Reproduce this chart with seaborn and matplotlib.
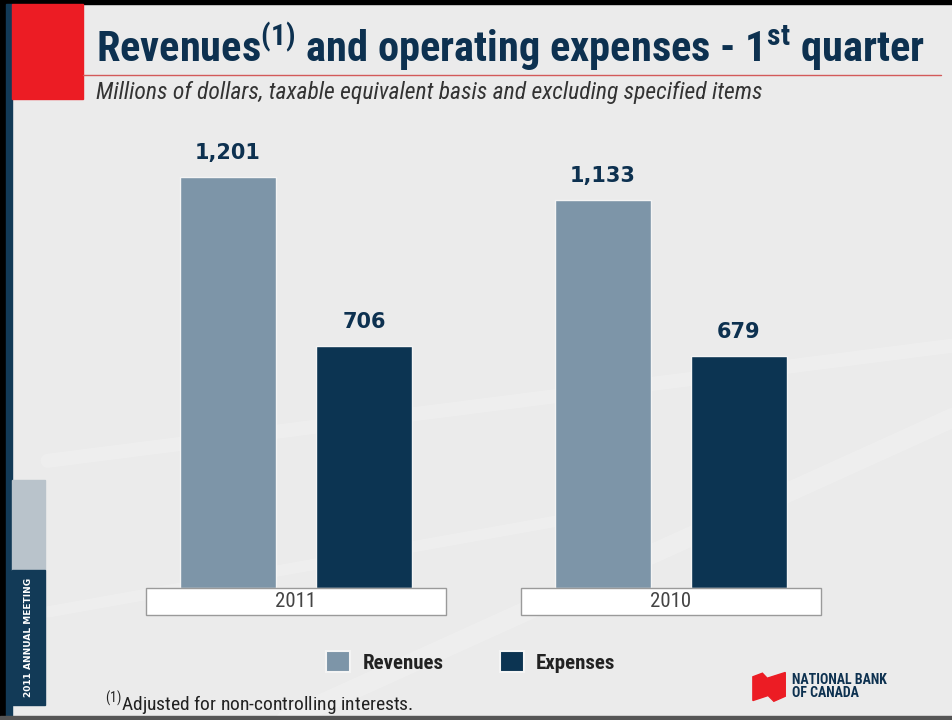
import pandas as pd
import seaborn as sns
import matplotlib.pyplot as plt
from matplotlib.patches import Rectangle, Polygon
from matplotlib.lines import Line2D
import matplotlib.transforms as mtransforms

# Datos del gráfico (millones de dólares)
years = ["2011", "2010"]
series = ["Revenues", "Expenses"]
revenues = [1201, 1133]
expenses = [706, 679]

colors = {"Revenues": "#7d95a8", "Expenses": "#0c3452"}
navy = "#0d3150"
bg = "#ebebeb"

df = pd.DataFrame({
    "year": years * 2,
    "serie": [series[0]] * len(years) + [series[1]] * len(years),
    "valor": revenues + expenses,
})

sns.set_theme(style="white")
cond = ["Roboto Condensed", "DejaVu Sans"]
plt.rcParams["font.family"] = cond
plt.rcParams["mathtext.fontset"] = "custom"
plt.rcParams["mathtext.rm"] = "Roboto Condensed"
plt.rcParams["mathtext.bf"] = "Roboto Condensed:bold"

fig = plt.figure(figsize=(9.53, 7.2), dpi=100, facecolor=bg)

# fondo y decoraciones de la diapositiva
fig.patches.append(Rectangle((0, 0), 1, 1, transform=fig.transFigure, color=bg, zorder=-10))
for (x0, y0, x1, y1, w) in [(0.05, 0.36, 1.0, 0.52, 10), (0.3, 0.0, 1.0, 0.42, 14),
                            (0.05, 0.15, 0.6, 0.28, 8)]:
    fig.add_artist(Line2D([x0, x1], [y0, y1], color="white", lw=w, alpha=0.2,
                          transform=fig.transFigure, zorder=-9))
fig.patches.append(Rectangle((0, 0.994), 1, 0.006, transform=fig.transFigure, color="black"))
fig.patches.append(Rectangle((0, 0), 0.006, 1, transform=fig.transFigure, color="black"))
fig.patches.append(Rectangle((0.006, 0), 0.007, 0.994, transform=fig.transFigure, color="#123a57"))
fig.patches.append(Rectangle((0, 0), 1, 0.006, transform=fig.transFigure, color="#555555"))
fig.patches.append(Rectangle((0.013, 0.862), 0.074, 0.132, transform=fig.transFigure, color="#ec1c24"))
fig.patches.append(Rectangle((0.013, 0.208), 0.034, 0.125, transform=fig.transFigure, color="#b9c3cb"))
fig.patches.append(Rectangle((0.013, 0.021), 0.034, 0.187, transform=fig.transFigure, color="#123a57"))
fig.text(0.03, 0.115, "2011 ANNUAL MEETING", rotation=90, color="white", fontsize=6.5,
         fontweight="bold", family=["DejaVu Sans"], ha="center", va="center")

# título
fig.text(0.101, 0.935,
         r"Revenues$^{\mathbf{(1)}}$ and operating expenses - 1$^{\mathbf{st}}$ quarter",
         fontsize=30.5, fontweight="bold", color=navy, va="center")
fig.add_artist(Line2D([0.087, 0.987], [0.896, 0.896], color="#d35a5a", lw=1,
                      transform=fig.transFigure))
fig.text(0.101, 0.871, "Millions of dollars, taxable equivalent basis and excluding specified items",
         fontsize=17, style="italic", color="#333333", va="center")

# gráfico de barras
ax = fig.add_axes([100 / 953, 132 / 720, 820 / 953, 458 / 720])
ax.set_facecolor("none")
sns.barplot(data=df, x="year", y="valor", hue="serie", order=years, hue_order=series,
            palette=colors, saturation=1, width=0.725, gap=0.294, edgecolor="#f4f4f4",
            linewidth=1, legend=False, ax=ax)
ax.set_xlim(-196 / 375, 624 / 375)
ax.set_ylim(0, 458 / 0.3424)
for c in ax.containers:
    ax.bar_label(c, labels=[f"{v:,.0f}" for v in c.datavalues], padding=10,
                 fontsize=15, fontweight="bold", color=navy, family=["DejaVu Sans"])
ax.set_xticks([])
ax.set_yticks([])
ax.set_xlabel("")
ax.set_ylabel("")
sns.despine(ax=ax, left=True, bottom=True)

# cajas de año debajo de las barras
trans = mtransforms.blended_transform_factory(ax.transData, ax.transAxes)
for i, y in enumerate(years):
    ax.add_patch(Rectangle((i - 0.4, -0.059), 0.8, 0.059, transform=trans, clip_on=False,
                           facecolor="white", edgecolor="#9a9a9a", lw=1))
    ax.text(i, -0.0295, y, transform=trans, ha="center", va="center", fontsize=15,
            color="#444444")

# leyenda
handles = [Rectangle((0, 0), 1, 1, facecolor=colors[s], edgecolor="#f4f4f4", lw=1.5)
           for s in series]
fig.legend(handles, series, loc="center", bbox_to_anchor=(0.494, 0.081), ncol=2,
           frameon=False, handlelength=1.15, handleheight=1.2, columnspacing=2.7,
           handletextpad=0.6, prop={"size": 15, "weight": "bold", "family": cond},
           labelcolor="#222222")

# nota al pie
fig.text(0.11, 0.022, r"$^{(1)}$Adjusted for non-controlling interests.", fontsize=14,
         color="#222222", va="center")

# logo
fig.patches.append(Polygon([(0.790, 0.060), (0.800, 0.065), (0.805, 0.058), (0.824, 0.066),
                            (0.824, 0.033), (0.812, 0.026), (0.806, 0.034), (0.790, 0.027)],
                           closed=True, transform=fig.transFigure, color="#ec1c24"))
fig.text(0.831, 0.046, "NATIONAL BANK\nOF CANADA", fontsize=10, fontweight="bold",
         color=navy, va="center", linespacing=0.9)

plt.savefig("out.png", dpi=100, facecolor=bg)
